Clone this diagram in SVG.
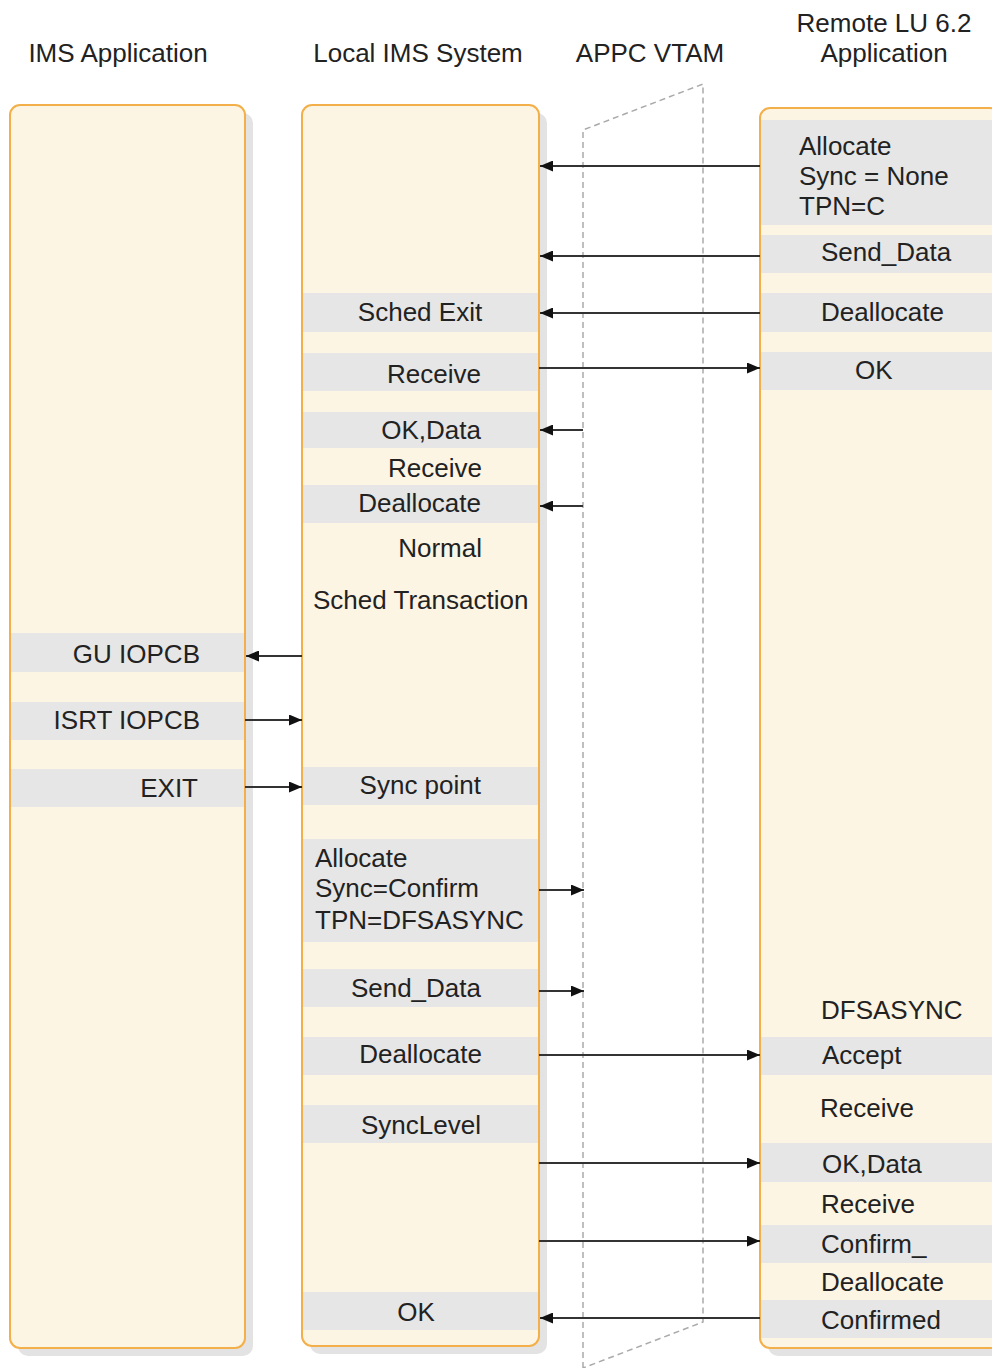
<svg xmlns="http://www.w3.org/2000/svg" width="992" height="1368" viewBox="0 0 992 1368">
<style>
.box{fill:#fdf5e4;stroke:#f3b04a;stroke-width:2}
.shadow{fill:#e3e3e3}
.band{fill:#e6e6e6}
text{font-family:"Liberation Sans",Arial,sans-serif;font-size:26px;fill:#222}
.hdr{text-anchor:middle}
.e{text-anchor:end}
.m{text-anchor:middle}
.arr{stroke:#333;stroke-width:1.8;fill:none;marker-end:url(#ah)}
.vt{stroke:#aaa;stroke-width:1.5;stroke-dasharray:6,4;fill:none}
</style>
<defs>
<marker id="ah" viewBox="0 0 13 11" refX="13" refY="5.5" markerWidth="13" markerHeight="11" markerUnits="userSpaceOnUse" orient="auto">
<path d="M0,0 L13,5.5 L0,11 z" fill="#111"/>
</marker>
</defs>
<rect width="992" height="1368" fill="#fff"/>

<g id="headers">
<text class="hdr" x="118" y="62">IMS Application</text>
<text class="hdr" x="418" y="62">Local IMS System</text>
<text class="hdr" x="650" y="62">APPC VTAM</text>
<text class="hdr" x="884" y="32">Remote LU 6.2</text>
<text class="hdr" x="884" y="62">Application</text>
</g>

<g id="vtam">
<path class="vt" d="M583,1368 L583,130 L703,84 L703,1322 L583,1368"/>
</g>

<g id="ims-app">
<rect class="shadow" x="18" y="113" width="235" height="1243" rx="10"/>
<rect class="box" x="10" y="105" width="235" height="1243" rx="10"/>
<rect class="band" x="11" y="633" width="233" height="39"/>
<rect class="band" x="11" y="702" width="233" height="38"/>
<rect class="band" x="11" y="769" width="233" height="38"/>
<text class="e" x="200" y="663">GU IOPCB</text>
<text class="e" x="200" y="729">ISRT IOPCB</text>
<text class="e" x="198" y="797">EXIT</text>
</g>

<g id="local-ims">
<rect class="shadow" x="310" y="113" width="237" height="1241" rx="10"/>
<rect class="box" x="302" y="105" width="237" height="1241" rx="10"/>
<rect class="band" x="303" y="293" width="235" height="39"/>
<rect class="band" x="303" y="353" width="235" height="38"/>
<rect class="band" x="303" y="412" width="235" height="36"/>
<rect class="band" x="303" y="485" width="235" height="38"/>
<rect class="band" x="303" y="767" width="235" height="38"/>
<rect class="band" x="303" y="839" width="235" height="103"/>
<rect class="band" x="303" y="969" width="235" height="38"/>
<rect class="band" x="303" y="1037" width="235" height="38"/>
<rect class="band" x="303" y="1105" width="235" height="38"/>
<rect class="band" x="303" y="1292" width="235" height="38"/>
<text class="m" x="420" y="321">Sched Exit</text>
<text class="e" x="481" y="383">Receive</text>
<text class="e" x="481" y="439">OK,Data</text>
<text class="e" x="482" y="477">Receive</text>
<text class="e" x="481" y="512">Deallocate</text>
<text class="e" x="482" y="557">Normal</text>
<text x="313" y="609">Sched Transaction</text>
<text class="e" x="481" y="794">Sync point</text>
<text x="315" y="867">Allocate</text>
<text x="315" y="897">Sync=Confirm</text>
<text x="315" y="929">TPN=DFSASYNC</text>
<text class="e" x="481" y="997">Send_Data</text>
<text class="e" x="482" y="1063">Deallocate</text>
<text class="e" x="481" y="1134">SyncLevel</text>
<text class="m" x="416" y="1321">OK</text>
</g>

<g id="remote-lu">
<rect class="shadow" x="768" y="116" width="240" height="1240" rx="10"/>
<rect class="box" x="760" y="108" width="240" height="1240" rx="10"/>
<rect class="band" x="761" y="120" width="239" height="105"/>
<rect class="band" x="761" y="235" width="239" height="38"/>
<rect class="band" x="761" y="293" width="239" height="39"/>
<rect class="band" x="761" y="352" width="239" height="38"/>
<rect class="band" x="761" y="1037" width="239" height="38"/>
<rect class="band" x="761" y="1143" width="239" height="39"/>
<rect class="band" x="761" y="1225" width="239" height="38"/>
<rect class="band" x="761" y="1300" width="239" height="38"/>
<text x="799" y="155">Allocate</text>
<text x="799" y="185">Sync = None</text>
<text x="799" y="215">TPN=C</text>
<text x="821" y="261">Send_Data</text>
<text x="821" y="321">Deallocate</text>
<text x="855" y="379">OK</text>
<text x="821" y="1019">DFSASYNC</text>
<text x="822" y="1064">Accept</text>
<text x="820" y="1117">Receive</text>
<text x="822" y="1173">OK,Data</text>
<text x="821" y="1213">Receive</text>
<text x="821" y="1253">Confirm_</text>
<text x="821" y="1291">Deallocate</text>
<text x="821" y="1329">Confirmed</text>
</g>

<g id="connectors">
<line class="arr" x1="760" y1="166" x2="540" y2="166"/>
<line class="arr" x1="760" y1="256" x2="540" y2="256"/>
<line class="arr" x1="760" y1="313" x2="540" y2="313"/>
<line class="arr" x1="539" y1="368" x2="760" y2="368"/>
<line class="arr" x1="583" y1="430" x2="540" y2="430"/>
<line class="arr" x1="583" y1="506" x2="540" y2="506"/>
<line class="arr" x1="302" y1="656" x2="246" y2="656"/>
<line class="arr" x1="245" y1="720" x2="302" y2="720"/>
<line class="arr" x1="245" y1="787" x2="302" y2="787"/>
<line class="arr" x1="539" y1="890" x2="584" y2="890"/>
<line class="arr" x1="539" y1="991" x2="584" y2="991"/>
<line class="arr" x1="539" y1="1055" x2="760" y2="1055"/>
<line class="arr" x1="539" y1="1163" x2="760" y2="1163"/>
<line class="arr" x1="539" y1="1241" x2="760" y2="1241"/>
<line class="arr" x1="760" y1="1318" x2="540" y2="1318"/>
</g>
</svg>
